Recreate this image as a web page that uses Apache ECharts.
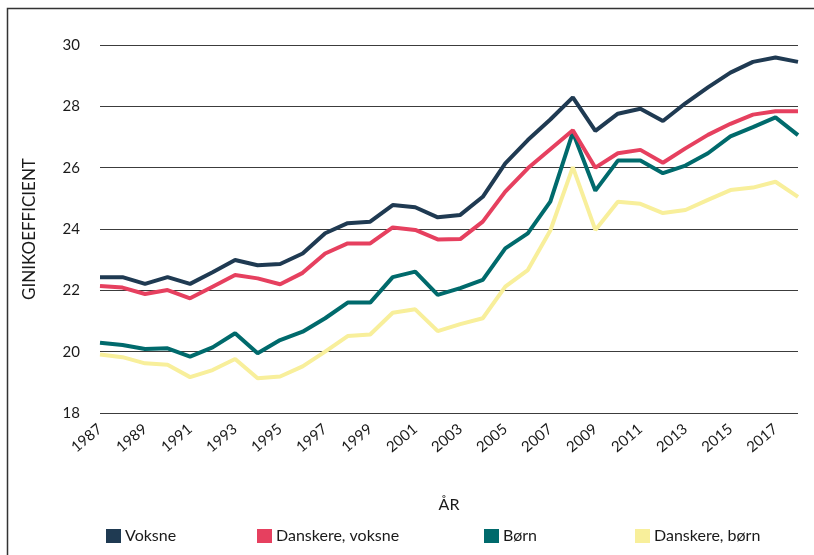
<!DOCTYPE html>
<html>
<head>
<meta charset="utf-8">
<script src="https://cdn.jsdelivr.net/npm/echarts@6/dist/echarts.min.js"></script>
<style>
  html, body { margin: 0; padding: 0; background: #fff; }
  #chart { width: 814px; height: 555px; }
</style>
</head>
<body>
<div id="chart"></div>
<script>
// --- Data ---
const years = ['1987', '1988', '1989', '1990', '1991', '1992', '1993', '1994', '1995', '1996',
    '1997', '1998', '1999', '2000', '2001', '2002', '2003', '2004', '2005', '2006',
    '2007', '2008', '2009', '2010', '2011', '2012', '2013', '2014', '2015', '2016',
    '2017', '2018'];

const voksne = [22.43, 22.43, 22.21, 22.43, 22.21, 22.59, 22.99, 22.82, 22.86, 23.2,
    23.86, 24.19, 24.24, 24.78, 24.71, 24.38, 24.46, 25.05, 26.14, 26.9,
    27.57, 28.29, 27.2, 27.76, 27.92, 27.52, 28.1, 28.62, 29.1, 29.45,
    29.59, 29.45];

const danskereVoksne = [22.14, 22.09, 21.88, 22.01, 21.74, 22.12, 22.5, 22.39, 22.2, 22.57,
    23.2, 23.53, 23.53, 24.05, 23.97, 23.66, 23.67, 24.24, 25.22, 25.98,
    26.6, 27.22, 26.0, 26.47, 26.58, 26.16, 26.63, 27.07, 27.43, 27.73,
    27.84, 27.84];

const boern = [20.29, 20.22, 20.09, 20.11, 19.84, 20.14, 20.6, 19.95, 20.38, 20.65,
    21.09, 21.6, 21.6, 22.43, 22.61, 21.85, 22.07, 22.34, 23.37, 23.86,
    24.89, 27.15, 25.25, 26.23, 26.23, 25.82, 26.07, 26.47, 27.02, 27.32,
    27.64, 27.06];

const danskereBoern = [19.91, 19.82, 19.62, 19.57, 19.17, 19.4, 19.76, 19.13, 19.19, 19.52,
    20.0, 20.51, 20.56, 21.27, 21.38, 20.67, 20.9, 21.09, 22.12, 22.66,
    23.95, 26.02, 23.97, 24.89, 24.82, 24.52, 24.62, 24.95, 25.27, 25.35,
    25.54, 25.05];

const yTicks = ['18', '20', '22', '24', '26', '28', '30'];

const seriesNames = ['Voksne', 'Danskere, voksne', 'Børn', 'Danskere, børn'];
const seriesData = [voksne, danskereVoksne, boern, danskereBoern];
const colors = ['#1f3a52', '#e6405f', '#006a6c', '#f8ef9b'];
const legendLeft = [101, 252, 479, 630];

const FONT = 'Lato';
const TEXT = '#1a1a1a';

const chart = echarts.init(document.getElementById('chart'), null, { renderer: 'canvas' });

chart.setOption({
    animation: false,
    backgroundColor: '#fff',
    color: colors,
    textStyle: { fontFamily: FONT, color: TEXT },
    grid: { left: 100, right: 16, top: 45, bottom: 142 },
    graphic: [{
        type: 'rect',
        shape: { x: 7.5, y: 8.5, width: 820, height: 600 },
        style: { fill: 'none', stroke: '#333', lineWidth: 1.5 },
        silent: true,
    }],
    xAxis: {
        type: 'category',
        data: years,
        boundaryGap: false,
        name: 'ÅR',
        nameLocation: 'middle',
        nameGap: 84,
        nameTextStyle: { fontFamily: FONT, fontSize: 16, color: TEXT },
        axisLine: { show: false },
        axisTick: { show: false },
        axisLabel: {
            interval: 1, rotate: 40, margin: 14,
            fontFamily: FONT, fontSize: 15, color: TEXT,
        },
        splitLine: { show: false },
    },
    yAxis: {
        type: 'value',
        min: 18, max: 30, interval: 2,
        name: 'GINIKOEFFICIENT',
        nameLocation: 'middle',
        nameGap: 62,
        nameTextStyle: { fontFamily: FONT, fontSize: 17, color: TEXT },
        axisLine: { show: false },
        axisTick: { show: false },
        axisLabel: {
            margin: 20, fontFamily: FONT, fontSize: 15, color: TEXT,
            formatter: v => yTicks[(v - 18) / 2] ?? '',
        },
        splitLine: { lineStyle: { color: '#3c3c3c', width: 1 } },
    },
    legend: seriesNames.map((name, i) => ({
        data: [name],
        left: legendLeft[i], top: 523,
        icon: 'rect', itemWidth: 15, itemHeight: 14, itemGap: 4,
        textStyle: { fontFamily: FONT, fontSize: 16, color: TEXT, padding: [0, 0, 0, -1] },
        selectedMode: false,
    })),
    series: seriesNames.map((name, i) => ({
        name, type: 'line',
        data: seriesData[i],
        showSymbol: false,
        lineStyle: { width: 4, color: colors[i] },
        itemStyle: { color: colors[i] },
        z: 10 - i,
    })),
});
</script>
</body>
</html>
